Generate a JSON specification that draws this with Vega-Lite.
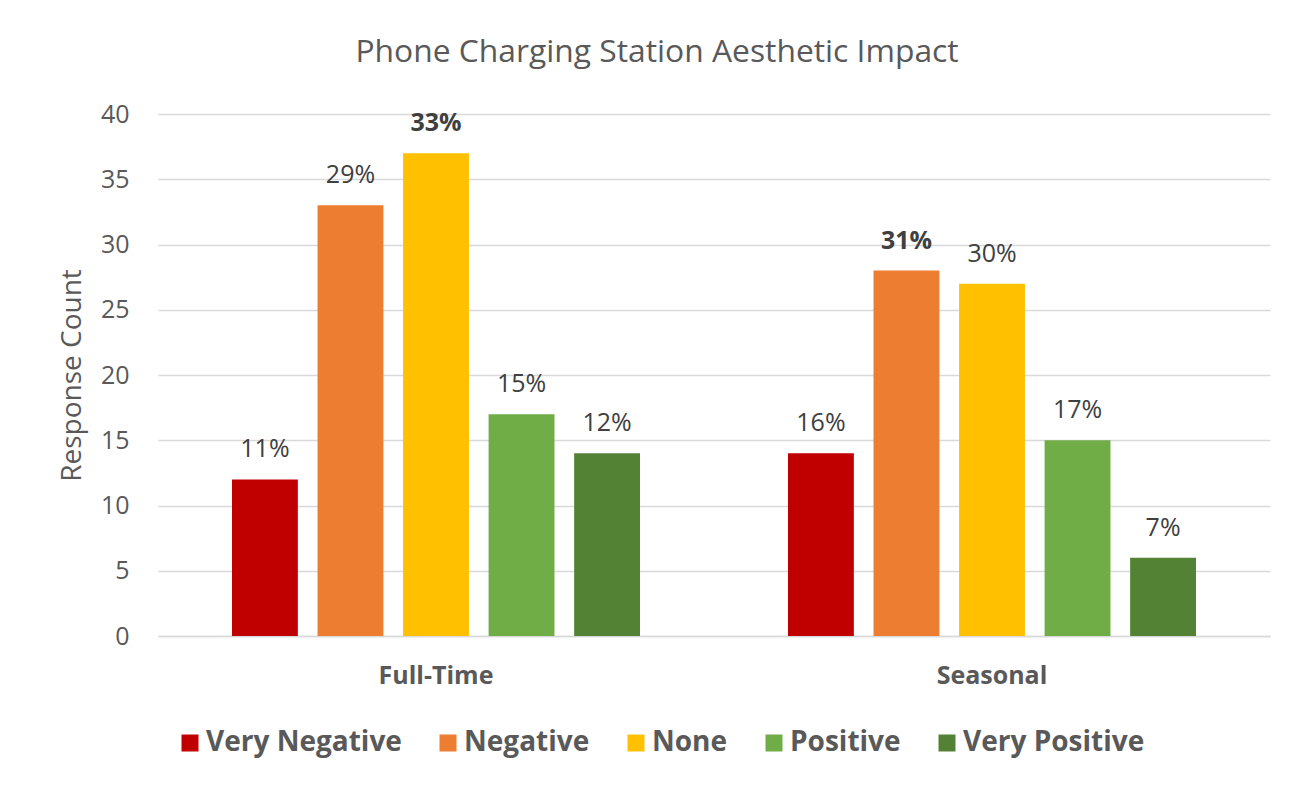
{
  "$schema": "https://vega.github.io/schema/vega-lite/v6.json",
  "autosize": "none",
  "width": 1112,
  "height": 522,
  "padding": {"left": 158, "top": 114, "right": 38, "bottom": 154},
  "background": "white",
  "title": {
    "text": "Phone Charging Station Aesthetic Impact",
    "font": "Open Sans",
    "fontSize": 31.8,
    "fontWeight": "normal",
    "color": "#595959",
    "anchor": "middle",
    "frame": "group",
    "baseline": "alphabetic",
    "offset": 8,
    "dx": -57
  },
  "data": {
    "values": [
      {"group": "Full-Time", "response": "Very Negative", "count": 12, "pct": 0.11},
      {"group": "Full-Time", "response": "Negative", "count": 33, "pct": 0.29},
      {"group": "Full-Time", "response": "None", "count": 37, "pct": 0.33},
      {"group": "Full-Time", "response": "Positive", "count": 17, "pct": 0.15},
      {"group": "Full-Time", "response": "Very Positive", "count": 14, "pct": 0.12},
      {"group": "Seasonal", "response": "Very Negative", "count": 14, "pct": 0.16},
      {"group": "Seasonal", "response": "Negative", "count": 28, "pct": 0.31},
      {"group": "Seasonal", "response": "None", "count": 27, "pct": 0.30},
      {"group": "Seasonal", "response": "Positive", "count": 15, "pct": 0.17},
      {"group": "Seasonal", "response": "Very Positive", "count": 6, "pct": 0.07}
    ]
  },
  "transform": [
    {"joinaggregate": [{"op": "max", "field": "count", "as": "groupMax"}], "groupby": ["group"]}
  ],
  "encoding": {
    "x": {
      "field": "group",
      "type": "nominal",
      "scale": {"paddingInner": 0, "paddingOuter": 0},
      "axis": {
        "title": null,
        "labelAngle": 0,
        "labelFont": "Open Sans",
        "labelFontSize": 25,
        "labelFontWeight": "bold",
        "labelColor": "#595959",
        "labelPadding": 27,
        "ticks": false,
        "domain": true,
        "domainColor": "#d9d9d9",
        "domainWidth": 1.5,
        "grid": false
      }
    },
    "xOffset": {
      "field": "response",
      "type": "nominal",
      "sort": ["Very Negative", "Negative", "None", "Positive", "Very Positive"],
      "scale": {"paddingInner": 0.23, "paddingOuter": 0.865}
    },
    "y": {
      "field": "count",
      "type": "quantitative",
      "scale": {"domain": [0, 40], "nice": false},
      "axis": {
        "title": "Response Count",
        "titleFont": "Open Sans",
        "titleFontSize": 28,
        "titleFontWeight": "normal",
        "titleColor": "#595959",
        "titleAngle": -90,
        "titleBaseline": "alphabetic",
        "titleAlign": "center",
        "titleX": -78,
        "titleY": 261,
        "values": [0, 5, 10, 15, 20, 25, 30, 35, 40],
        "labelFont": "Open Sans",
        "labelFontSize": 25,
        "labelColor": "#595959",
        "labelPadding": 29,
        "ticks": false,
        "domain": false,
        "grid": true,
        "gridColor": "#d9d9d9",
        "gridWidth": 1.5
      }
    }
  },
  "layer": [
    {
      "mark": {"type": "bar"},
      "encoding": {
        "color": {
          "field": "response",
          "type": "nominal",
          "sort": ["Very Negative", "Negative", "None", "Positive", "Very Positive"],
          "scale": {
            "domain": ["Very Negative", "Negative", "None", "Positive", "Very Positive"],
            "range": ["#C00000", "#ED7D31", "#FFC000", "#70AD47", "#548235"]
          },
          "legend": {
            "title": null,
            "orient": "none",
            "direction": "horizontal",
            "legendX": 18,
            "legendY": 615,
            "symbolType": "square",
            "symbolSize": 289,
            "symbolStrokeWidth": 0,
            "symbolOpacity": 1,
            "labelFont": "Open Sans",
            "labelFontSize": 28,
            "labelFontWeight": "bold",
            "labelColor": "#595959",
            "labelOffset": 2,
            "labelLimit": 0,
            "columnPadding": 32
          }
        }
      }
    },
    {
      "transform": [{"filter": "datum.count != datum.groupMax"}],
      "mark": {"type": "text", "font": "Open Sans", "fontSize": 25, "color": "#404040", "baseline": "alphabetic", "dy": -22},
      "encoding": {
        "text": {"field": "pct", "type": "quantitative", "format": ".0%"}
      }
    },
    {
      "transform": [{"filter": "datum.count == datum.groupMax"}],
      "mark": {"type": "text", "font": "Open Sans", "fontSize": 25, "fontWeight": "bold", "color": "#404040", "baseline": "alphabetic", "dy": -22},
      "encoding": {
        "text": {"field": "pct", "type": "quantitative", "format": ".0%"}
      }
    }
  ],
  "config": {
    "view": {"stroke": null}
  }
}
